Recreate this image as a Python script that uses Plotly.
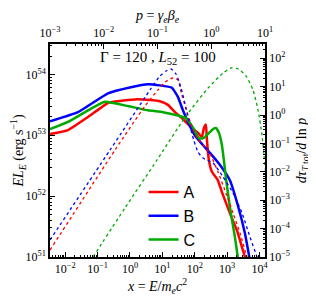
import plotly.graph_objects as go

# ---- solid curves: E L_E (erg/s) vs x = E/(m_e c^2)
x_A = [3.39e-3, 0.0122, 0.0505, 0.209, 0.426, 1.42, 4.13, 8.41, 14.9, 24.4, 40.2, 57.3, 81.8,
       125, 166, 192, 221, 238, 274, 339, 519, 690, 1216, 2004, 3069, 3793]
y_A = [1.05e53, 1.22e53, 2.0e53, 3.39e53, 3.63e53, 3.89e53, 3.80e53, 3.63e53, 3.16e53, 2.40e53,
       1.91e53, 1.58e53, 1.32e53, 1.10e53, 9.33e52, 1.32e53, 1.51e53, 8.32e52, 3.89e52, 2.51e52,
       1.82e52, 1.17e52, 5.25e51, 2.75e51, 1.30e51, 0.89e51]

x_B = [3.39e-3, 0.0248, 0.209, 1.07, 3.59, 8.41, 19.7, 30.2, 43.2, 61.7, 101, 178, 295, 603,
       1216, 2138, 3548, 5012]
y_B = [1.70e53, 2.40e53, 4.90e53, 6.17e53, 6.92e53, 6.61e53, 6.03e53, 4.27e53, 2.57e53, 1.66e53,
       1.00e53, 6.92e52, 5.13e52, 3.24e52, 1.82e52, 7.08e51, 2.45e51, 0.9e51]

x_C = [3.39e-3, 0.0122, 0.0505, 0.169, 0.865, 3.59, 10.4, 28.2, 53.5, 87.9, 135, 179, 255, 364,
       450, 557, 690, 794, 916, 1216, 1738, 2138, 2307]
y_C = [1.26e53, 1.66e53, 2.57e53, 3.55e53, 3.02e53, 2.57e53, 2.40e53, 2.14e53, 1.91e53, 1.35e53,
       8.91e52, 8.91e52, 1.05e53, 1.26e53, 1.32e53, 1.10e53, 6.92e52, 3.89e52, 2.0e52, 6.61e51,
       2.14e51, 1.0e51, 0.83e51]

# ---- dotted curves: d tau_{T,tot} / d ln p vs p = gamma_e beta_e
p_A = [1.0e-3, 0.0162, 0.0585, 0.102, 0.138, 0.194, 0.240, 0.274, 0.354, 0.439, 0.543, 0.703,
       0.948, 1.34, 1.96, 2.54, 3.43, 4.62, 5.04]
t_A = [1.76e-5, 0.0586, 2.07, 7.59, 14.5, 20.1, 17.1, 6.46, 1.28, 0.378, 0.155, 0.0879, 0.0424,
       9.84e-3, 1.41e-3, 3.54e-4, 7.0e-5, 1.0e-5, 6.2e-6]

p_B = [1.0e-3, 0.0131, 0.0724, 0.111, 0.144, 0.178, 0.221, 0.274, 0.339, 0.403, 0.478, 0.566,
       0.703, 1.08, 1.66, 2.54, 3.73, 5.26, 7.10, 7.73]
t_B = [3.98e-5, 0.0586, 7.59, 23.6, 35.4, 41.7, 27.8, 8.93, 1.76, 0.410, 0.122, 0.0498, 0.0306,
       0.0204, 6.56e-3, 1.79e-3, 3.54e-4, 5.06e-5, 1.0e-5, 6.2e-6]

p_C = [6.31e-3, 0.0248, 0.0979, 0.339, 0.908, 1.66, 2.33, 3.15, 4.44, 5.98, 7.41, 8.79, 9.57, 10.4]
t_C = [1.0e-5, 5.31e-4, 0.026, 0.923, 9.68, 30.1, 45.2, 41.7, 23.6, 7.59, 1.50, 0.198, 0.0391,
       7.71e-3]

# ---- tick labels
x_exps = [-2, -1, 0, 1, 2, 3, 4]
p_exps = [-3, -2, -1, 0, 1]
L_exps = [51, 52, 53, 54]
tau_exps = [-5, -4, -3, -2, -1, 0, 1, 2]

names = ["A", "B", "C"]
colors = ["#ff0000", "#0000ff", "#00aa00"]


def pow_labels(exps):
    return [f"10<sup>{str(e).replace('-', '−')}</sup>" for e in exps]


def pow_vals(exps):
    return [10.0 ** e for e in exps]


fig = go.Figure()
solid = [(x_A, y_A), (x_B, y_B), (x_C, y_C)]
dotted = [(p_A, t_A), (p_B, t_B), (p_C, t_C)]
for (px, py), name, c in zip(dotted, names, colors):
    fig.add_trace(go.Scatter(x=px, y=py, mode="lines", xaxis="x2", yaxis="y2",
                             line=dict(color=c, width=1.3, dash="dot", shape="spline",
                                       smoothing=0.6),
                             showlegend=False))
for (sx, sy), name, c in zip(solid, names, colors):
    fig.add_trace(go.Scatter(x=sx, y=sy, mode="lines", name=name,
                             line=dict(color=c, width=2.5, shape="spline", smoothing=0.4)))

serif = "Liberation Serif"
axis_common = dict(type="log", showline=True, linecolor="black", linewidth=1.5,
                   ticks="inside", ticklen=5, tickwidth=1.2, tickcolor="black",
                   showgrid=False, zeroline=False, automargin=False,
                   tickfont=dict(family=serif, size=12, color="black"),
                   minor=dict(ticks="inside", ticklen=2.5, tickcolor="black", dtick="D1",
                              showgrid=False))
title_font = dict(family=serif, size=14, color="black")

# the page body adds an 8 px offset, so the figure is drawn 8 px smaller
fig.update_layout(
    width=308, height=295,
    margin=dict(l=42, r=51, t=36, b=46),
    paper_bgcolor="white", plot_bgcolor="white",
    showlegend=True,
    legend=dict(x=0.435, y=0.385, xanchor="left", yanchor="top",
                font=dict(family="Liberation Sans", size=16, color="black"),
                bgcolor="rgba(0,0,0,0)", tracegroupgap=0, itemwidth=30),
    xaxis=dict(axis_common, range=[-2.47, 4.17], tickmode="array",
               tickvals=pow_vals(x_exps), ticktext=pow_labels(x_exps),
               title=dict(text="<i>x</i> = <i>E</i>/<i>m<sub>e</sub>c</i><sup>2</sup>",
                          font=title_font, standoff=4)),
    xaxis2=dict(axis_common, range=[-3, 1.0], overlaying="x", side="top", tickmode="array",
                tickvals=pow_vals(p_exps), ticktext=pow_labels(p_exps),
                title=dict(text="<i>p</i> = <i>γ<sub>e</sub>β<sub>e</sub></i>",
                           font=title_font, standoff=6)),
    yaxis=dict(axis_common, range=[51, 54.5], tickmode="array",
               tickvals=pow_vals(L_exps), ticktext=pow_labels(L_exps),
               title=dict(text="<i>EL<sub>E</sub></i> (erg s<sup>−1</sup>)",
                          font=title_font, standoff=0)),
    yaxis2=dict(axis_common, range=[-5, 2.5], overlaying="y", side="right", tickmode="array",
                tickvals=pow_vals(tau_exps), ticktext=pow_labels(tau_exps),
                title=dict(text="<i>dτ<sub>T,</sub></i><sub>tot</sub>/<i>d</i> ln <i>p</i>",
                           font=title_font, standoff=6)),
    annotations=[dict(text="Γ = 120 , <i>L</i><sub>52</sub> = 100", x=0.5, y=0.987,
                      xref="paper", yref="paper", showarrow=False,
                      font=dict(family=serif, size=15, color="black"))],
)

fig.write_html("out.html")
